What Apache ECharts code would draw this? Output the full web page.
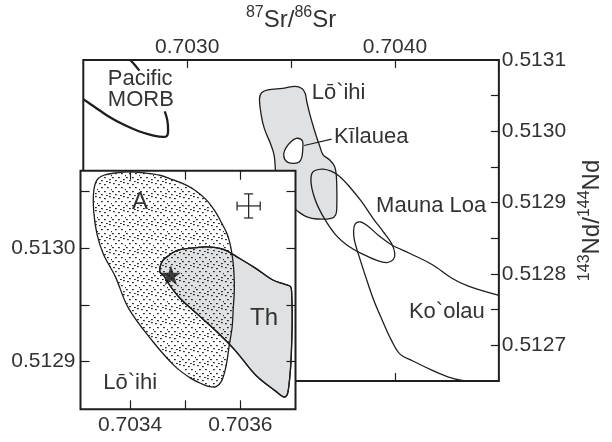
<!DOCTYPE html>
<html><head><meta charset="utf-8">
<script src="https://cdn.jsdelivr.net/npm/echarts@6/dist/echarts.min.js"></script>
<style>html,body{margin:0;padding:0;background:#fff}#c{width:612px;height:442px}</style>
</head><body><div id="c"></div>
<script>
// ---------- main panel (87Sr/86Sr vs 143Nd/144Nd) ----------
const mainXTicks = [0.7030, 0.7035, 0.7040];
const mainXLabels = [0.7030, 0.7040];
const mainXBottomTicks = [0.7040];
const mainYTicks = [0.51270, 0.51275, 0.51280, 0.51285, 0.51290, 0.51295, 0.51300, 0.51305];
const mainYLabels = [0.5127, 0.5128, 0.5129, 0.5130, 0.5131];

const morbX1 = [0.702500,0.702555,0.702626,0.702696,0.702767,0.702838,0.702885,0.702904,0.702908,0.702904,0.702892];
const morbY1 = [0.513045,0.513034,0.513020,0.513009,0.513000,0.512994,0.512992,0.512994,0.513002,0.513016,0.513028];
const morbX2 = [0.702722,0.702745,0.702770];
const morbY2 = [0.513101,0.513094,0.513085];

const loihiX = [0.703348,0.703358,0.703389,0.703458,0.703520,0.703552,0.703568,0.703576,0.703591,0.703615,0.703638,0.703654,0.703685,0.703709,0.703717,0.703720,0.703720,0.703715,0.703693,0.703624,0.703576,0.703536,0.703512,0.703473,0.703440,0.703426,0.703423,0.703418,0.703403,0.703371,0.703356];
const loihiY = [0.513046,0.513054,0.513058,0.513060,0.513063,0.513060,0.513053,0.513041,0.513023,0.512999,0.512979,0.512967,0.512960,0.512951,0.512940,0.512921,0.512894,0.512883,0.512878,0.512877,0.512880,0.512887,0.512893,0.512902,0.512917,0.512940,0.512953,0.512967,0.512981,0.513004,0.513023];

const kilaueaX = [0.703502,0.703525,0.703546,0.703556,0.703556,0.703551,0.703539,0.703516,0.703488,0.703469,0.703465,0.703476];
const kilaueaY = [0.512986,0.512990,0.512989,0.512985,0.512974,0.512963,0.512957,0.512955,0.512956,0.512961,0.512969,0.512977];
const leaderX = [0.703563,0.703695];
const leaderY = [0.512980,0.512989];

const maunaLoaX = [0.703599,0.703615,0.703654,0.703693,0.703732,0.703779,0.703835,0.703897,0.703944,0.703983,0.703999,0.703991,0.703960,0.703913,0.703850,0.703771,0.703717,0.703670,0.703630,0.703607,0.703596];
const maunaLoaY = [0.512940,0.512945,0.512947,0.512944,0.512937,0.512923,0.512903,0.512877,0.512859,0.512843,0.512829,0.512820,0.512816,0.512819,0.512827,0.512840,0.512854,0.512873,0.512894,0.512912,0.512928];

const koolauX = [0.704500,0.704353,0.704274,0.704180,0.704070,0.703983,0.703921,0.703866,0.703831,0.703808,0.703801,0.703805,0.703827,0.703858,0.703897,0.703936,0.703983,0.704023,0.704086,0.704180,0.704274,0.704345];
const koolauY = [0.512770,0.512783,0.512794,0.512813,0.512829,0.512841,0.512854,0.512868,0.512873,0.512870,0.512861,0.512847,0.512825,0.512797,0.512764,0.512737,0.512707,0.512688,0.512678,0.512665,0.512654,0.512650];

const mainLabelText = ['Pacific\nMORB', 'Lō`ihi', 'Kīlauea', 'Mauna Loa', 'Ko`olau'];
const mainLabelX = [0.702618, 0.703599, 0.703706, 0.704439, 0.704432];
const mainLabelY = [0.513059, 0.513053, 0.512992, 0.512895, 0.512747];
const mainLabelAlign = ['left', 'left', 'left', 'right', 'right'];

// ---------- inset (Lō`ihi detail) ----------
const insetXTicks = [0.7034, 0.7035, 0.7036];
const insetXLabels = [0.7034, 0.7036];
const insetYTicks = [0.51290, 0.51295, 0.51300, 0.51305];
const insetYLabels = [0.5129, 0.5130];

const aX = [0.703334,0.703340,0.703352,0.703373,0.703397,0.703427,0.703454,0.703478,0.703499,0.703517,0.703537,0.703553,0.703566,0.703577,0.703584,0.703588,0.703589,0.703587,0.703585,0.703580,0.703574,0.703566,0.703556,0.703544,0.703532,0.703511,0.703481,0.703439,0.703397,0.703373,0.703352,0.703340,0.703334];
const aY = [0.513050,0.513060,0.513064,0.513066,0.513067,0.513066,0.513064,0.513060,0.513056,0.513051,0.513043,0.513033,0.513022,0.513011,0.512997,0.512981,0.512963,0.512946,0.512930,0.512915,0.512896,0.512883,0.512878,0.512878,0.512880,0.512885,0.512896,0.512919,0.512947,0.512975,0.512994,0.513012,0.513032];

const thX = [0.703454,0.703458,0.703469,0.703487,0.703514,0.703538,0.703568,0.703598,0.703628,0.703658,0.703681,0.703691,0.703693,0.703694,0.703693,0.703691,0.703687,0.703684,0.703678,0.703664,0.703628,0.703592,0.703562,0.703526,0.703490,0.703472,0.703462];
const thY = [0.512979,0.512988,0.512993,0.512998,0.513000,0.513001,0.512999,0.512991,0.512982,0.512972,0.512968,0.512966,0.512961,0.512938,0.512915,0.512894,0.512875,0.512870,0.512869,0.512874,0.512888,0.512909,0.512924,0.512940,0.512956,0.512967,0.512975];

const starX = [0.703474];
const starY = [0.512976];

const errCenterX = [0.703615];
const errCenterY = [0.513037];
const errHalfX = [0.000021];
const errHalfY = [0.0000106];

const insetLabelText = ['A', 'Th', 'Lō`ihi'];
const insetLabelX = [0.703418, 0.703643, 0.703400];
const insetLabelY = [0.513040, 0.512938, 0.512881];
const insetLabelSize = [24, 24, 22];

// ---------- rendering ----------
const FONT = 'Liberation Sans, Arial, sans-serif';
const TXT = '#333';
const LINE = '#1e1e1e';
const GRAY = '#e0e1e3';
const TICK_FS = 21;

function dotPattern() {
  const c = document.createElement('canvas');
  c.width = 14; c.height = 14;
  const g = c.getContext('2d');
  g.fillStyle = '#2a2a2a';
  [[1,1],[6,2],[11,0],[3,5],[9,5],[13,7],[0,9],[6,9],[11,11],[3,12],[8,13]]
    .forEach(p => g.fillRect(p[0], p[1], 1.8, 1.2));
  return c;
}
const DOTS = { image: dotPattern(), repeat: 'repeat' };

function shape(xs, ys, o) {
  return {
    type: 'custom', xAxisIndex: o.xi, yAxisIndex: o.yi, z: o.z, clip: true, silent: true,
    data: [[xs[0], ys[0]]],
    renderItem: (p, api) => {
      const pts = xs.map((x, i) => api.coord([x, ys[i]]));
      return {
        type: o.closed ? 'polygon' : 'polyline',
        shape: { points: pts, smooth: o.smooth == null ? 0.35 : o.smooth },
        style: { fill: o.fill || 'none', stroke: LINE, lineWidth: o.lw || 1.3 }
      };
    }
  };
}

function labelSeries(texts, xs, ys, o) {
  return {
    type: 'custom', xAxisIndex: o.xi, yAxisIndex: o.yi, z: o.z, silent: true, clip: false,
    data: texts.map((t, i) => [xs[i], ys[i], i]),
    renderItem: (p, api) => {
      const i = api.value(2);
      const pt = api.coord([api.value(0), api.value(1)]);
      return {
        type: 'text', x: pt[0], y: pt[1],
        style: {
          text: texts[i], fill: TXT, font: (o.size ? o.size[i] : 22) + 'px ' + FONT,
          align: o.align ? o.align[i] : 'center', verticalAlign: 'middle', lineHeight: 21
        }
      };
    }
  };
}

const tickStyle = { color: LINE, width: 1.2 };
const fmt4 = v => v.toFixed(4);
const richName = {
  s: { fontSize: 16, verticalAlign: 'top', lineHeight: 30, color: TXT, fontFamily: FONT },
  n: { fontSize: 24, lineHeight: 30, color: TXT, fontFamily: FONT }
};
const labelStyle = (m, vals) => ({ show: true, customValues: vals, formatter: fmt4, fontSize: TICK_FS, color: TXT, margin: m, fontFamily: FONT });

const option = {
  animation: false,
  backgroundColor: '#fff',
  textStyle: { fontFamily: FONT },
  grid: [
    { left: 83.3, top: 54, width: 424.7, height: 327, show: true, borderColor: LINE, borderWidth: 2, backgroundColor: '#fff', z: 0 },
    { left: 80.5, top: 170.7, width: 215, height: 238.6, show: true, borderColor: LINE, borderWidth: 2, backgroundColor: '#fff', z: 5 }
  ],
  xAxis: [
    { gridIndex: 0, type: 'value', position: 'top', min: 0.7025, max: 0.7045,
      axisLine: { show: false }, splitLine: { show: false },
      axisTick: { show: true, inside: true, length: 8, customValues: mainXTicks, lineStyle: tickStyle },
      axisLabel: labelStyle(2, mainXLabels),
      name: '{s|87}{n|Sr/}{s|86}{n|Sr}', nameLocation: 'middle', nameGap: 15,
      nameTextStyle: { color: TXT, fontFamily: FONT, rich: richName } },
    { gridIndex: 0, type: 'value', position: 'bottom', min: 0.7025, max: 0.7045,
      axisLine: { show: false }, splitLine: { show: false }, axisLabel: { show: false },
      axisTick: { show: true, inside: true, length: 8, customValues: mainXBottomTicks, lineStyle: tickStyle } },
    { gridIndex: 1, type: 'value', position: 'bottom', min: 0.70331, max: 0.70370, z: 8,
      axisLine: { show: false }, splitLine: { show: false },
      axisTick: { show: true, inside: true, length: 9, customValues: insetXTicks, lineStyle: tickStyle },
      axisLabel: labelStyle(5, insetXLabels) },
    { gridIndex: 1, type: 'value', position: 'top', min: 0.70331, max: 0.70370, z: 8,
      axisLine: { show: false }, splitLine: { show: false }, axisLabel: { show: false },
      axisTick: { show: true, inside: true, length: 9, customValues: insetXTicks, lineStyle: tickStyle } }
  ],
  yAxis: [
    { gridIndex: 0, type: 'value', position: 'right', min: 0.51265, max: 0.51310,
      axisLine: { show: false }, splitLine: { show: false },
      axisTick: { show: true, inside: true, length: 8, customValues: mainYTicks, lineStyle: tickStyle },
      axisLabel: labelStyle(3, mainYLabels),
      name: '{s|143}{n|Nd/}{s|144}{n|Nd}', nameLocation: 'middle', nameRotate: 90, nameGap: 78,
      nameTextStyle: { color: TXT, fontFamily: FONT, rich: richName } },
    { gridIndex: 1, type: 'value', position: 'left', min: 0.512858, max: 0.513068, z: 8,
      axisLine: { show: false }, splitLine: { show: false },
      axisTick: { show: true, inside: true, length: 9, customValues: insetYTicks, lineStyle: tickStyle },
      axisLabel: labelStyle(5, insetYLabels) },
    { gridIndex: 1, type: 'value', position: 'right', min: 0.512858, max: 0.513068, z: 8,
      axisLine: { show: false }, splitLine: { show: false }, axisLabel: { show: false },
      axisTick: { show: true, inside: true, length: 9, customValues: insetYTicks, lineStyle: tickStyle } }
  ],
  series: [
    shape(morbX1, morbY1, { xi: 0, yi: 0, z: 1, lw: 2.3 }),
    shape(morbX2, morbY2, { xi: 0, yi: 0, z: 1, lw: 2.3 }),
    shape(loihiX, loihiY, { xi: 0, yi: 0, z: 1, closed: true, fill: GRAY }),
    shape(kilaueaX, kilaueaY, { xi: 0, yi: 0, z: 1, closed: true, fill: '#fff' }),
    shape(leaderX, leaderY, { xi: 0, yi: 0, z: 1, lw: 1.1, smooth: 0 }),
    shape(maunaLoaX, maunaLoaY, { xi: 0, yi: 0, z: 1, closed: true }),
    shape(koolauX, koolauY, { xi: 0, yi: 0, z: 1 }),
    labelSeries(mainLabelText, mainLabelX, mainLabelY, { xi: 0, yi: 0, z: 2, align: mainLabelAlign }),

    shape(thX, thY, { xi: 2, yi: 1, z: 6, closed: true, fill: GRAY }),
    shape(aX, aY, { xi: 2, yi: 1, z: 6, closed: true, fill: DOTS }),
    shape(thX, thY, { xi: 2, yi: 1, z: 6, closed: true }),
    {
      type: 'custom', xAxisIndex: 2, yAxisIndex: 1, z: 7, silent: true,
      data: errCenterX.map((x, i) => [x, errCenterY[i], errHalfX[i], errHalfY[i]]),
      renderItem: (p, api) => {
        const cx = api.value(0), cy = api.value(1), hx = api.value(2), hy = api.value(3);
        const L = api.coord([cx - hx, cy]), R = api.coord([cx + hx, cy]);
        const T = api.coord([cx, cy + hy]), B = api.coord([cx, cy - hy]);
        const cap = 4.5, st = { stroke: LINE, lineWidth: 1.2 };
        const ln = (x1, y1, x2, y2) => ({ type: 'line', shape: { x1, y1, x2, y2 }, style: st });
        return { type: 'group', children: [
          ln(L[0], L[1], R[0], R[1]), ln(T[0], T[1], B[0], B[1]),
          ln(L[0], L[1] - cap, L[0], L[1] + cap), ln(R[0], R[1] - cap, R[0], R[1] + cap),
          ln(T[0] - cap, T[1], T[0] + cap, T[1]), ln(B[0] - cap, B[1], B[0] + cap, B[1])
        ] };
      }
    },
    {
      type: 'scatter', xAxisIndex: 2, yAxisIndex: 1, z: 7, silent: true,
      symbol: 'path://M50,0 L61.8,35.4 L100,35.4 L69.1,57.3 L80.9,93.3 L50,71.4 L19.1,93.3 L30.9,57.3 L0,35.4 L38.2,35.4 Z',
      symbolSize: 20, itemStyle: { color: '#111' },
      data: starX.map((x, i) => [x, starY[i]])
    },
    labelSeries(insetLabelText, insetLabelX, insetLabelY, { xi: 2, yi: 1, z: 7, size: insetLabelSize })
  ]
};

const chart = echarts.init(document.getElementById('c'), null, { renderer: 'canvas' });
chart.setOption(option);
</script>
</body></html>
